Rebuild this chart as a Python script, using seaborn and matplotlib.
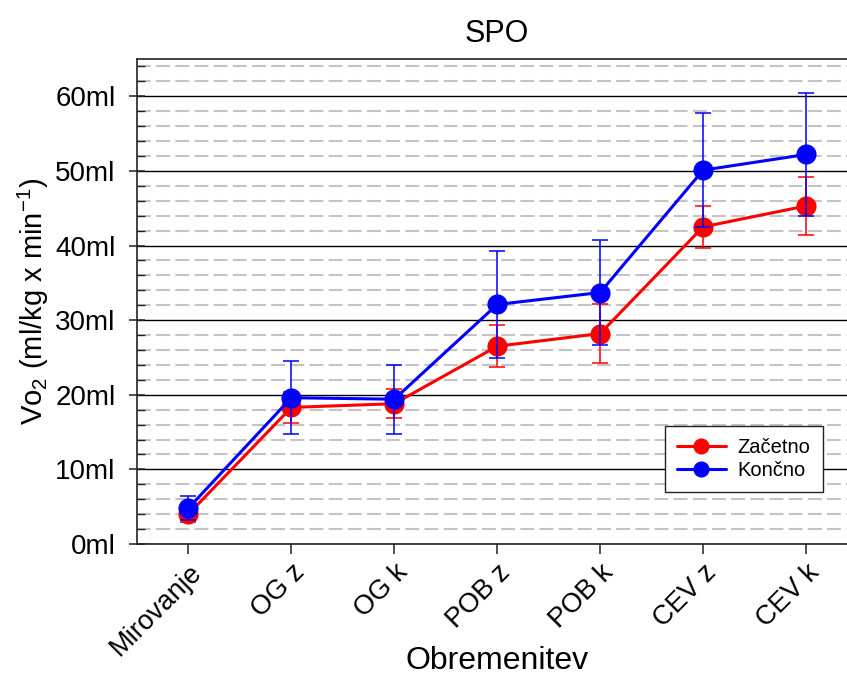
import numpy as np
import pandas as pd
import seaborn as sns
import matplotlib
matplotlib.use("Agg")
import matplotlib.pyplot as plt
from matplotlib.ticker import MultipleLocator, FuncFormatter

# Oxygen uptake per load stage, start and end of the programme
categories = ["Mirovanje", "OG z", "OG k", "POB z", "POB k", "CEV z", "CEV k"]
zacetno = [4.0, 18.3, 18.8, 26.5, 28.2, 42.5, 45.3]
zacetno_err = [1.0, 2.1, 1.95, 2.8, 3.9, 2.8, 3.9]
koncno = [4.8, 19.6, 19.4, 32.1, 33.7, 50.1, 52.2]
koncno_err = [1.6, 4.9, 4.6, 7.2, 7.1, 7.6, 8.3]
series_names = ["Začetno", "Končno"]
colors = ["#ff0000", "#0000ff"]

sns.set_style("white")
plt.rcParams["font.family"] = ["Liberation Sans", "DejaVu Sans"]
plt.rcParams["mathtext.default"] = "regular"
plt.rcParams["lines.scale_dashes"] = False
for key in ["text.color", "axes.labelcolor", "xtick.color", "ytick.color"]:
    plt.rcParams[key] = "black"

pos = np.arange(len(categories))
df = pd.DataFrame({
    "pos": np.concatenate([pos, pos]),
    "value": zacetno + koncno,
    "err": zacetno_err + koncno_err,
    "serija": [series_names[0]] * len(pos) + [series_names[1]] * len(pos),
})

fig = plt.figure(figsize=(8.47, 6.77), dpi=100)
ax = fig.add_axes([0.1617, 0.1965, 0.8507, 0.7164])

for i, name in enumerate(series_names):
    sub = df[df["serija"] == name]
    ax.errorbar(sub["pos"], sub["value"], yerr=sub["err"], fmt="none",
                ecolor=colors[i], elinewidth=1.1, capsize=6, capthick=1.1,
                zorder=3 + 2 * i)
    sns.lineplot(data=sub, x="pos", y="value", ax=ax, color=colors[i],
                 marker="o", markersize=14.5, markeredgewidth=0,
                 linewidth=2.2, label=name, zorder=4 + 2 * i)

ax.set_xlim(-0.5, 6.5)
ax.set_ylim(0, 65)
ax.set_xticks(pos)
ax.set_xticklabels(categories, rotation=45, ha="right", rotation_mode="anchor")

ax.yaxis.set_major_locator(MultipleLocator(10))
ax.yaxis.set_minor_locator(MultipleLocator(2))
ax.yaxis.set_major_formatter(FuncFormatter(lambda v, p: f"{int(v)}ml"))

ax.grid(True, which="major", axis="y", color="black", linewidth=1.0, zorder=1)
ax.grid(True, which="minor", axis="y", color="#c4c4c4", linewidth=1.5,
        linestyle=(0, (10, 3.8)), zorder=1)
ax.grid(False, axis="x")
ax.set_axisbelow(True)

for side in ["left", "bottom", "top"]:
    ax.spines[side].set_visible(True)
    ax.spines[side].set_color("#222222")
    ax.spines[side].set_linewidth(1.2)
ax.spines["right"].set_visible(False)

ax.tick_params(axis="y", which="major", direction="inout", length=12,
               width=1.1, labelsize=20, pad=9.5, left=True, color="#222222")
ax.tick_params(axis="y", which="minor", direction="in", length=6,
               width=1.0, left=True, color="#222222")
ax.tick_params(axis="x", which="major", direction="out", length=7,
               width=1.1, labelsize=19.5, pad=4, bottom=True, color="#222222")

ax.set_xlabel("Obremenitev", fontsize=23)
ax.xaxis.set_label_coords(0.5, -0.257)
ax.xaxis.label.set_verticalalignment("baseline")
ax.set_ylabel("Vo$_2$ (ml/kg x min$^{-1}$)", fontsize=21)
ax.yaxis.set_label_coords(-0.119, 0.5)
ax.set_title("SPO", fontsize=22, pad=12)

leg = ax.legend(loc="upper left", bbox_to_anchor=(0.733, 0.243),
                borderaxespad=0, fontsize=14.5, frameon=True, fancybox=False,
                edgecolor="#222222", framealpha=1, markerscale=0.8,
                handlelength=2.4, borderpad=0.6, labelspacing=0.2,
                handletextpad=0.6)
leg.get_frame().set_linewidth(1.0)

fig.savefig("out.png", dpi=100)
